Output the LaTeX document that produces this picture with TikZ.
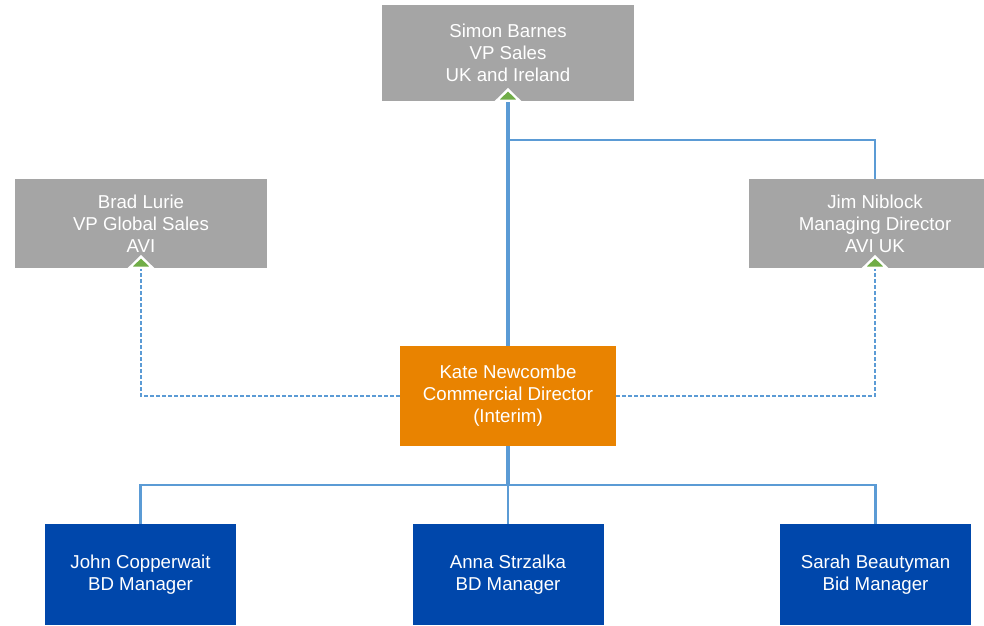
\documentclass[tikz,border=0pt]{standalone}
\usepackage{fontspec}
\setmainfont{Liberation Sans}
\usetikzlibrary{arrows.meta}
\definecolor{boxgray}{RGB}{165,165,165}
\definecolor{boxorange}{RGB}{233,131,0}
\definecolor{boxblue}{RGB}{0,71,171}
\definecolor{linkblue}{RGB}{91,155,213}
\definecolor{tipgreen}{RGB}{112,173,71}
\begin{document}
\begin{tikzpicture}[x=0.75pt,y=-0.75pt,
			box/.style={
			shape=rectangle,
			inner sep=0pt,
			text=white,
			align=center,
			font=\fontsize{14pt}{16.5pt}\selectfont},
			gray box/.style={box, fill=boxgray, minimum width=189pt},
			blue box/.style={box, fill=boxblue, minimum width=143.25pt, minimum height=75.75pt},
			link/.style={draw=linkblue, line width=2pt},
			dash link/.style={link, dash pattern=on 3pt off 1.5pt},
			uptip/.style={-{Triangle[length=10.5pt,width=21pt,fill=tipgreen,color=white,line width=1.8pt]}, shorten >=-10pt}]
			\useasboundingbox (0,0) rectangle (984,625);
			\clip (0,0) rectangle (984,625);
			\node [gray box, minimum height=72pt] (v1) at (508,53) {Simon Barnes\\VP Sales\\UK and Ireland};
			\node [gray box, minimum height=66.75pt] (v2) at (141,223.5) {Brad Lurie\\VP Global Sales\\AVI};
			\node [gray box, minimum height=66.75pt] (v3) at (875,223.5) {Jim Niblock\\Managing Director\\AVI UK};
			\node [box, fill=boxorange, minimum width=162pt, minimum height=75pt] (v4) at (508,396) {Kate Newcombe\\Commercial Director\\(Interim)};
			\node [blue box] (v5) at (140.5,574.5) {John Copperwait\\BD Manager};
			\node [blue box] (v6) at (508,574.5) {Anna Strzalka\\BD Manager};
			\node [blue box] (v7) at (875.5,574.5) {Sarah Beautyman\\Bid Manager};
			\coordinate (c1) at (508,140);
			\coordinate (c2) at (508,485);
			\draw [link, line width=2.6pt, uptip] (v4) -- (v1);
			\draw [link] (c1) -| (v3);
			\draw [dash link, uptip] (v4) -| (v2);
			\draw [dash link, uptip] (v4) -| (v3);
			\draw [link, line width=2.6pt] (v4) -- (c2);
			\draw [link] (c2) -| (v5);
			\draw [link] (c2) -- (v6);
			\draw [link] (c2) -| (v7);
		\end{tikzpicture}
\end{document}
